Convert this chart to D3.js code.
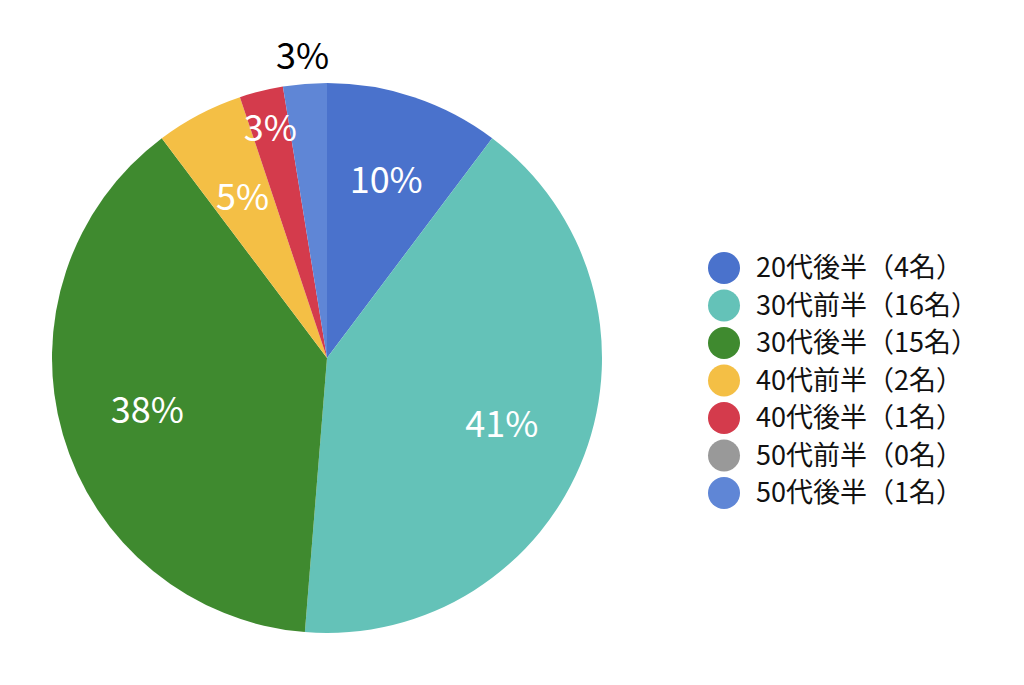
<!DOCTYPE html>
<html><head><meta charset="utf-8">
<script src="https://cdn.jsdelivr.net/npm/d3@7"></script>
<style>body{margin:0;background:#fff}text{font-family:"Noto Sans CJK JP","Noto Sans",sans-serif}</style>
</head><body><svg id="c" width="1024" height="685"></svg>
<script>
const categories = ['20代後半（4名）','30代前半（16名）','30代後半（15名）','40代前半（2名）','40代後半（1名）','50代前半（0名）','50代後半（1名）'];
const values = [4, 16, 15, 2, 1, 0, 1];
const colors = ['#4a72cc','#64c2b8','#3f8a2f','#f4bf45','#d43b4c','#999999','#5f86d6'];

const svg = d3.select('#c');
const cx = 327, cy = 358, R = 275;
const g = svg.append('g').attr('transform', `translate(${cx},${cy})`);
const total = d3.sum(values);
const arcs = d3.pie().sort(null)(values);
const arc = d3.arc().innerRadius(0).outerRadius(R);

g.selectAll('path').data(arcs).enter().append('path')
  .attr('d', arc).attr('fill', (d, i) => colors[i]);

// label radius: larger for thin slices, outside for the last one
const labelR = d => d.index === 6 ? R * 1.1 : d.index === 4 ? R * 0.86 : d.index === 3 ? R * 0.66 : R * 0.68;
g.selectAll('text.lbl').data(arcs.filter(d => d.value > 0)).enter().append('text')
  .attr('class', 'lbl')
  .attr('transform', d => {
    const r = labelR(d);
    const c = d3.arc().innerRadius(r).outerRadius(r).centroid(d);
    return `translate(${c})`;
  })
  .attr('text-anchor', 'middle').attr('dy', '0.35em')
  .attr('font-size', 36)
  .attr('fill', d => d.index === 6 ? '#000' : '#fff')
  .text(d => Math.round(d.value / total * 100) + '%');

const leg = svg.append('g').attr('transform', 'translate(724,268)');
const item = leg.selectAll('g').data(categories).enter().append('g')
  .attr('transform', (d, i) => `translate(0,${i * 37.5})`);
item.append('circle').attr('r', 16).attr('fill', (d, i) => colors[i]);
item.append('text').attr('x', 32).attr('dy', '0.35em').attr('font-size', 27).attr('fill', '#111').text(d => d);
</script></body></html>
